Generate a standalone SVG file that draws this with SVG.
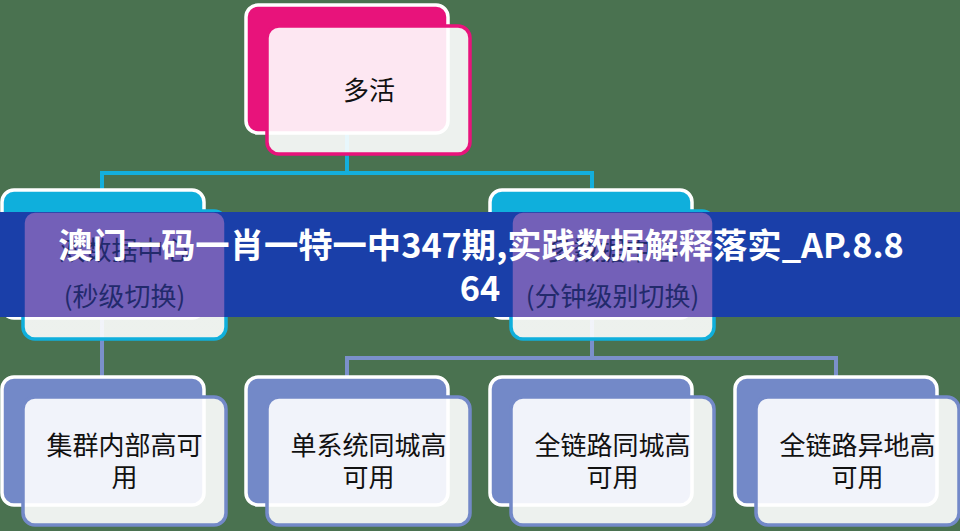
<svg xmlns="http://www.w3.org/2000/svg" width="960" height="531" viewBox="0 0 960 531">
  <defs>
    <style>
      .bg { fill: #4a7250; }
      .back { stroke: #ffffff; stroke-width: 3.5; }
      .front { stroke-width: 3.5; fill: #ffffff; fill-opacity: 0.9; }
      .pink-back { fill: #e8137b; }
      .pink-front { stroke: #e8137b; }
      .peri-back { fill: #7389c8; }
      .peri-front { stroke: #7389c8; }
      .lbl { font-family: "Noto Sans CJK SC", "Noto Sans", sans-serif; font-size: 26px; fill: #111111; text-anchor: middle; }
      .lbl-b { fill: #222a6c; }
      .conn { fill: none; stroke-width: 4; stroke-linejoin: miter; }
      .conn-cyan { stroke: #14afdc; }
      .conn-peri { stroke: #7b90cb; }
      .banner { fill: #1a3fa9; }
      .title { font-family: "Noto Sans CJK SC", "Noto Sans", sans-serif; font-size: 34.3px; font-weight: 700; fill: #ffffff; text-anchor: middle; }
    </style>
    <linearGradient id="gWhiteStroke" gradientUnits="userSpaceOnUse" x1="0" y1="0" x2="0" y2="531">
      <stop offset="0" stop-color="#ffffff"/>
      <stop offset="0.3992" stop-color="#ffffff"/>
      <stop offset="0.3992" stop-color="#1a3fa9"/>
      <stop offset="0.597" stop-color="#1a3fa9"/>
      <stop offset="0.597" stop-color="#ffffff"/>
      <stop offset="1" stop-color="#ffffff"/>
    </linearGradient>
    <linearGradient id="gCyanFill" gradientUnits="userSpaceOnUse" x1="0" y1="0" x2="0" y2="531">
      <stop offset="0" stop-color="#0fafdc"/>
      <stop offset="0.3992" stop-color="#0fafdc"/>
      <stop offset="0.3992" stop-color="#1a3fa9"/>
      <stop offset="0.597" stop-color="#1a3fa9"/>
      <stop offset="0.597" stop-color="#0fafdc"/>
      <stop offset="1" stop-color="#0fafdc"/>
    </linearGradient>
    <linearGradient id="gFrontFill" gradientUnits="userSpaceOnUse" x1="0" y1="0" x2="0" y2="531">
      <stop offset="0" stop-color="#ffffff" stop-opacity="0.9"/>
      <stop offset="0.3992" stop-color="#ffffff" stop-opacity="0.9"/>
      <stop offset="0.3992" stop-color="#7360b8" stop-opacity="1"/>
      <stop offset="0.597" stop-color="#7360b8" stop-opacity="1"/>
      <stop offset="0.597" stop-color="#ffffff" stop-opacity="0.9"/>
      <stop offset="1" stop-color="#ffffff" stop-opacity="0.9"/>
    </linearGradient>
  </defs>

  <rect class="bg" x="0" y="0" width="960" height="531"/>

  <rect class="banner" x="0" y="212" width="960" height="105"/>

  <g id="connectors">
    <path class="conn conn-cyan" d="M347,133 V173 M102,190 V173 H592 V190"/>
    <path class="conn conn-peri" d="M102,318 V377"/>
    <path class="conn conn-peri" d="M592,318 V358 M347,377 V358 H836 V377"/>
  </g>

  <g id="node-duohuo">
    <rect class="back pink-back" x="246" y="5" width="202" height="128" rx="12"/>
    <rect class="front pink-front" x="267" y="26" width="203" height="128" rx="12"/>
    <text class="lbl" x="369" y="100">多活</text>
  </g>

  <g id="node-shuang-dc">
    <rect x="2" y="190" width="202" height="128" rx="12" fill="url(#gCyanFill)" stroke="url(#gWhiteStroke)" stroke-width="3.5"/>
    <rect x="23" y="211" width="203" height="128" rx="12" fill="url(#gFrontFill)" stroke="url(#gCyanFill)" stroke-width="3.5"/>
    <text class="lbl lbl-b" x="124.5" y="260">双数据中心</text>
    <text class="lbl lbl-b" x="124.5" y="306">(秒级切换)</text>
  </g>

  <g id="node-duo-dc">
    <rect x="490" y="190" width="202" height="128" rx="12" fill="url(#gCyanFill)" stroke="url(#gWhiteStroke)" stroke-width="3.5"/>
    <rect x="511" y="211" width="203" height="128" rx="12" fill="url(#gFrontFill)" stroke="url(#gCyanFill)" stroke-width="3.5"/>
    <text class="lbl lbl-b" x="612.5" y="260">多数据中心</text>
    <text class="lbl lbl-b" x="612.5" y="306">(分钟级别切换)</text>
  </g>

  <g id="node-jiqun">
    <rect class="back peri-back" x="2" y="377" width="202" height="128" rx="12"/>
    <rect class="front peri-front" x="23" y="397" width="203" height="128" rx="12"/>
    <text class="lbl" x="124.5" y="455">集群内部高可</text>
    <text class="lbl" x="124.5" y="487">用</text>
  </g>

  <g id="node-danxitong">
    <rect class="back peri-back" x="246" y="377" width="202" height="128" rx="12"/>
    <rect class="front peri-front" x="267" y="397" width="203" height="128" rx="12"/>
    <text class="lbl" x="368.5" y="455">单系统同城高</text>
    <text class="lbl" x="368.5" y="487">可用</text>
  </g>

  <g id="node-quanlian-tongcheng">
    <rect class="back peri-back" x="490" y="377" width="202" height="128" rx="12"/>
    <rect class="front peri-front" x="511" y="397" width="203" height="128" rx="12"/>
    <text class="lbl" x="612.5" y="455">全链路同城高</text>
    <text class="lbl" x="612.5" y="487">可用</text>
  </g>

  <g id="node-quanlian-yidi">
    <rect class="back peri-back" x="735" y="377" width="202" height="128" rx="12"/>
    <rect class="front peri-front" x="756" y="397" width="203" height="128" rx="12"/>
    <text class="lbl" x="857.5" y="455">全链路异地高</text>
    <text class="lbl" x="857.5" y="487">可用</text>
  </g>

  <g id="banner-title">
    <text class="title" x="481" y="258">澳门一码一肖一特一中347期,实践数据解释落实_AP.8.8</text>
    <text class="title" x="480" y="301">64</text>
  </g>
</svg>
